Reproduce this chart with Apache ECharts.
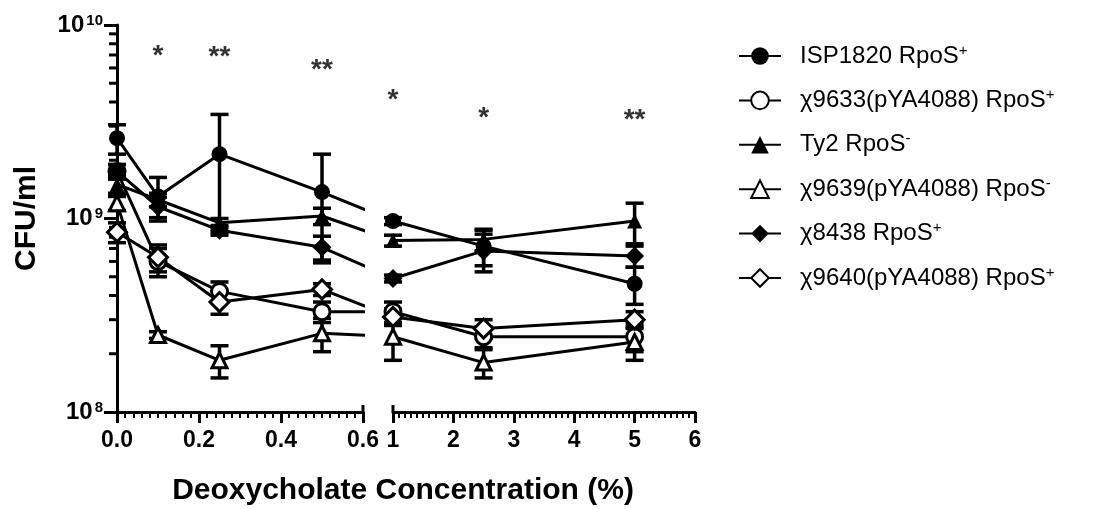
<!DOCTYPE html>
<html>
<head>
<meta charset="utf-8">
<script src="https://cdn.jsdelivr.net/npm/echarts@6/dist/echarts.min.js"></script>
<style>
  html, body { margin: 0; padding: 0; background: #fff; }
  #chart { width: 1093px; height: 509px; }
</style>
</head>
<body>
<div id="chart"></div>
<script>
// Deoxycholate concentration (%), the axis is broken between 0.6 and 1
const concentrations = [0, 0.1, 0.25, 0.5, 1, 2.5, 5]
const breakAt = 0.6

// strains (superscript sign is the last char of the name)
const strainNames = [
  'ISP1820 RpoS+',
  'χ9633(pYA4088) RpoS+',
  'Ty2 RpoS-',
  'χ9639(pYA4088) RpoS-',
  'χ8438 RpoS+',
  'χ9640(pYA4088) RpoS+'
]
const strainSymbols = ['circle', 'circle', 'triangle', 'triangle', 'diamond', 'diamond']
const strainHollow = [false, true, false, true, false, true]

// mean CFU/ml, x 10^9
const isp1820 = [2.6, 1.3, 2.15, 1.37, 0.97, 0.72, 0.46]
const x9633 = [1.75, 0.6, 0.42, 0.33, 0.33, 0.245, 0.245]
const ty2 = [1.5, 1.25, 0.95, 1.03, 0.77, 0.78, 0.97]
const x9639 = [1.2, 0.25, 0.185, 0.255, 0.245, 0.18, 0.23]
const x8438 = [1.75, 1.15, 0.87, 0.71, 0.49, 0.68, 0.64]
const x9640 = [0.85, 0.63, 0.37, 0.43, 0.31, 0.27, 0.3]

// SD, x 10^9
const isp1820Sd = [0.45, 0.33, 1.3, 0.78, 0.04, 0.15, 0.1]
const x9633Sd = [0.15, 0.1, 0.05, 0.04, 0.04, 0.03, 0.04]
const ty2Sd = [0.15, 0.1, 0.05, 0.1, 0.05, 0.1, 0.23]
const x9639Sd = [0.1, 0.01, 0.035, 0.05, 0.06, 0.03, 0.045]
const x8438Sd = [0.15, 0.14, 0.05, 0.1, 0.02, 0.15, 0.08]
const x9640Sd = [0.1, 0.1, 0.05, 0.03, 0.03, 0.03, 0.03]

const means = [isp1820, x9633, ty2, x9639, x8438, x9640]
const sds = [isp1820Sd, x9633Sd, ty2Sd, x9639Sd, x8438Sd, x9640Sd]

// significance marks
const sigX = [0.1, 0.25, 0.5, 1, 2.5, 5]
const sigLabels = ['*', '**', '**', '*', '*', '**']
const sigY = [6.9, 6.8, 5.8, 4.1, 3.3, 3.2]

// y axis minor ticks (2..9 per decade)
const minorTickValues = []
for (const d of [1e8, 1e9]) for (let k = 2; k <= 9; k++) minorTickValues.push(k * d)

const FONT = 'Liberation Sans, Arial, sans-serif'
const leftGrid = { left: 117, top: 25, width: 246, height: 387 }
const rightGrid = { left: 393, top: 25, width: 302, height: 387 }
// where the first point after the break sits, in left-axis units
const bridgeX = breakAt + (rightGrid.left - leftGrid.left - leftGrid.width) / leftGrid.width * breakAt

const symbolSizes = { circle: 16, triangle: 15, diamond: 19 }

const chart = echarts.init(document.getElementById('chart'))

const series = []

strainNames.forEach((name, i) => {
  const itemStyle = {
    color: strainHollow[i] ? '#fff' : '#000',
    borderColor: '#000',
    borderWidth: strainHollow[i] ? 3 : 0
  }
  const base = {
    type: 'line',
    name,
    symbol: strainSymbols[i],
    symbolSize: symbolSizes[strainSymbols[i]],
    lineStyle: { color: '#000', width: 3 },
    itemStyle,
    z: 3
  }
  const left = []
  const right = []
  const errLeft = []
  const errRight = []
  concentrations.forEach((c, j) => {
    const v = means[i][j] * 1e9
    const lo = Math.max((means[i][j] - sds[i][j]) * 1e9, 1e8)
    const hi = (means[i][j] + sds[i][j]) * 1e9
    if (c <= breakAt) {
      left.push([c, v])
      errLeft.push([c, lo, hi])
    } else {
      right.push([c, v])
      errRight.push([c, lo, hi])
    }
  })
  // carry the line on towards the first point past the break (clipped by the grid)
  left.push({ value: [bridgeX, right[0][1]], symbol: 'none' })

  series.push(Object.assign({}, base, { xAxisIndex: 0, yAxisIndex: 0, data: left }))
  series.push(Object.assign({}, base, { xAxisIndex: 1, yAxisIndex: 1, data: right }))
  series.push(errorBars(0, errLeft))
  series.push(errorBars(1, errRight))
})

function errorBars (idx, data) {
  return {
    type: 'custom',
    xAxisIndex: idx,
    yAxisIndex: idx,
    silent: true,
    clip: false,
    z: 2,
    encode: { x: 0, y: [1, 2] },
    data,
    renderItem: (params, api) => {
      const top = api.coord([api.value(0), api.value(2)])
      const bot = api.coord([api.value(0), api.value(1)])
      const hw = 9
      const st = { stroke: '#000', lineWidth: 3.5 }
      return {
        type: 'group',
        children: [
          { type: 'line', shape: { x1: top[0], y1: top[1], x2: bot[0], y2: bot[1] }, style: st },
          { type: 'line', shape: { x1: top[0] - hw, y1: top[1], x2: top[0] + hw, y2: top[1] }, style: st },
          { type: 'line', shape: { x1: bot[0] - hw, y1: bot[1], x2: bot[0] + hw, y2: bot[1] }, style: st }
        ]
      }
    }
  }
}

// y axis minor ticks
series.push({
  type: 'custom',
  xAxisIndex: 0,
  yAxisIndex: 0,
  silent: true,
  clip: false,
  data: minorTickValues.map(v => [0, v]),
  renderItem: (params, api) => {
    const p = api.coord([0, api.value(1)])
    return { type: 'line', shape: { x1: p[0] - 8, y1: p[1], x2: p[0], y2: p[1] }, style: { stroke: '#000', lineWidth: 3 } }
  }
})

// little upward ends at the axis break
const breakEnds = [[0, breakAt], [1, 1]]
breakEnds.forEach(([idx, x]) => {
  series.push({
    type: 'custom',
    xAxisIndex: idx,
    yAxisIndex: idx,
    silent: true,
    clip: false,
    data: [[x, 1e8]],
    renderItem: (params, api) => {
      const p = api.coord([api.value(0), api.value(1)])
      return { type: 'line', shape: { x1: p[0], y1: p[1] - 7, x2: p[0], y2: p[1] }, style: { stroke: '#000', lineWidth: 3 } }
    }
  })
})

// significance asterisks
const sigLeft = []
const sigRight = []
sigX.forEach((x, k) => {
  const item = { value: [x, sigY[k] * 1e9], name: sigLabels[k] }
  if (x <= breakAt) sigLeft.push(item)
  else sigRight.push(item)
})
;[[0, sigLeft], [1, sigRight]].forEach(([idx, data]) => {
  series.push({
    type: 'scatter',
    xAxisIndex: idx,
    yAxisIndex: idx,
    symbolSize: 0,
    silent: true,
    data,
    label: {
      show: true,
      position: 'inside',
      formatter: '{b}',
      fontSize: 28,
      fontWeight: 'bold',
      color: '#000',
      fontFamily: FONT
    }
  })
})

const axisLine = { show: true, onZero: false, lineStyle: { color: '#000', width: 3 } }
const tickLabel = { color: '#000', fontSize: 23, fontWeight: 'bold', fontFamily: FONT }

chart.setOption({
  animation: false,
  textStyle: { fontFamily: FONT },
  grid: [
    Object.assign({ containLabel: false }, leftGrid),
    Object.assign({ containLabel: false }, rightGrid)
  ],
  xAxis: [
    {
      gridIndex: 0,
      type: 'value',
      min: 0,
      max: breakAt,
      interval: 0.2,
      axisLine,
      axisTick: { length: 11, lineStyle: { color: '#000', width: 3 } },
      minorTick: { show: true, splitNumber: 10, length: 6, lineStyle: { color: '#000', width: 2 } },
      splitLine: { show: false },
      axisLabel: Object.assign({ margin: 17, formatter: v => v.toFixed(1) }, tickLabel)
    },
    {
      gridIndex: 1,
      type: 'value',
      min: 1,
      max: 6,
      interval: 1,
      axisLine,
      axisTick: { length: 11, lineStyle: { color: '#000', width: 3 } },
      minorTick: { show: true, splitNumber: 10, length: 6, lineStyle: { color: '#000', width: 2 } },
      splitLine: { show: false },
      axisLabel: Object.assign({ margin: 17, formatter: v => String(v) }, tickLabel)
    }
  ],
  yAxis: [
    {
      gridIndex: 0,
      type: 'log',
      logBase: 10,
      min: 1e8,
      max: 1e10,
      axisLine,
      axisTick: { length: 13, lineStyle: { color: '#000', width: 3 } },
      splitLine: { show: false },
      axisLabel: {
        margin: 14,
        formatter: v => '{b|10}{s|' + Math.round(Math.log10(v)) + '}',
        rich: {
          b: { fontSize: 24, fontWeight: 'bold', color: '#000', lineHeight: 24, fontFamily: FONT },
          s: { fontSize: 15, fontWeight: 'bold', color: '#000', lineHeight: 15, verticalAlign: 'top', padding: [0, 0, 0, 2], fontFamily: FONT }
        }
      },
      name: 'CFU/ml',
      nameLocation: 'middle',
      nameGap: 75,
      nameTextStyle: { fontSize: 30, fontWeight: 'bold', color: '#000', fontFamily: FONT }
    },
    { gridIndex: 1, type: 'log', logBase: 10, min: 1e8, max: 1e10, show: false }
  ],
  legend: {
    orient: 'vertical',
    left: 733,
    top: 38,
    itemWidth: 42,
    itemHeight: 22,
    itemGap: 19.4,
    selectedMode: false,
    data: strainNames,
    formatter: name => '{n|' + name.slice(0, -1) + '}{s|' + name.slice(-1) + '}',
    textStyle: {
      padding: [0, 0, 0, 14],
      rich: {
        n: { fontSize: 24, color: '#000', lineHeight: 26, fontFamily: FONT },
        s: { fontSize: 15, color: '#000', lineHeight: 15, verticalAlign: 'top', fontFamily: FONT }
      }
    }
  },
  graphic: [
    {
      type: 'text',
      x: 403,
      y: 491,
      style: {
        text: 'Deoxycholate Concentration (%)',
        fontSize: 30,
        fontWeight: 'bold',
        fill: '#000',
        align: 'center',
        verticalAlign: 'middle',
        fontFamily: FONT
      }
    }
  ],
  series
})
</script>
</body>
</html>
